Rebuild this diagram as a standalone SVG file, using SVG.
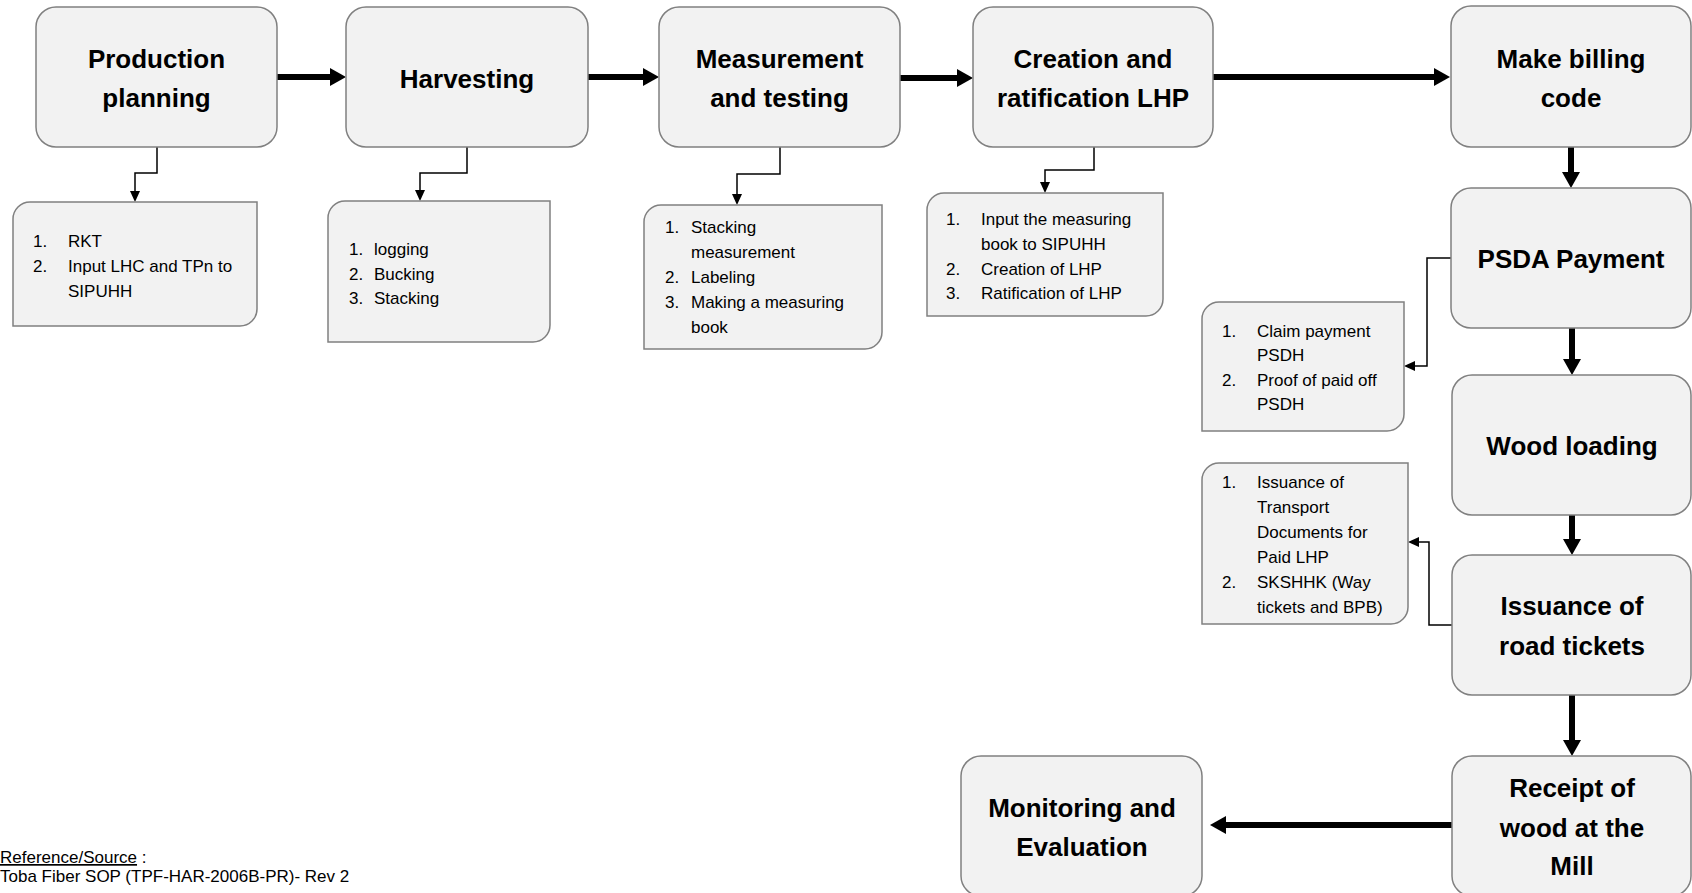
<svg xmlns="http://www.w3.org/2000/svg" width="1692" height="893" viewBox="0 0 1692 893">
<style>
.box{fill:#f2f2f2;stroke:#808080;stroke-width:1.5}
.sub{fill:#f2f2f2;stroke:#808080;stroke-width:1.5}
.t{font-family:"Liberation Sans",Arial,sans-serif;font-weight:bold;font-size:26px;fill:#000;text-anchor:middle}
.s{font-family:"Liberation Sans",Arial,sans-serif;font-size:17px;fill:#000}
.thick{fill:none;stroke:#000;stroke-width:6}
.thin{fill:none;stroke:#000;stroke-width:1.5}
.ref{font-family:"Liberation Sans",Arial,sans-serif;font-size:17px;fill:#000}
</style>
<defs>
<marker id="ah" markerUnits="userSpaceOnUse" markerWidth="16" markerHeight="18" refX="0" refY="9" orient="auto" overflow="visible"><path d="M0,0 L16,9 L0,18 z" fill="#000"/></marker>
<marker id="as" markerUnits="userSpaceOnUse" markerWidth="11" markerHeight="10" refX="0" refY="5" orient="auto" overflow="visible"><path d="M0,0 L11,5 L0,10 z" fill="#000"/></marker>
</defs>
<rect width="1692" height="893" fill="#fff"/>

<g id="connectors">
<line class="thick" x1="277" y1="77" x2="330" y2="77" marker-end="url(#ah)"/>
<line class="thick" x1="588" y1="77" x2="643" y2="77" marker-end="url(#ah)"/>
<line class="thick" x1="900" y1="78" x2="957" y2="78" marker-end="url(#ah)"/>
<line class="thick" x1="1213" y1="77" x2="1434" y2="77" marker-end="url(#ah)"/>
<line class="thick" x1="1571" y1="147" x2="1571" y2="172" marker-end="url(#ah)"/>
<line class="thick" x1="1572" y1="328" x2="1572" y2="359" marker-end="url(#ah)"/>
<line class="thick" x1="1572" y1="515" x2="1572" y2="539" marker-end="url(#ah)"/>
<line class="thick" x1="1572" y1="695" x2="1572" y2="740" marker-end="url(#ah)"/>
<line class="thick" x1="1452" y1="825" x2="1226" y2="825" marker-end="url(#ah)"/>
<path class="thin" d="M157,147 V173 H135 V191" marker-end="url(#as)"/>
<path class="thin" d="M467,147 V173 H420 V190" marker-end="url(#as)"/>
<path class="thin" d="M780,147 V174 H737 V194" marker-end="url(#as)"/>
<path class="thin" d="M1094,147 V170 H1045 V182" marker-end="url(#as)"/>
<path class="thin" d="M1452,258 H1427 V366 H1415" marker-end="url(#as)"/>
<path class="thin" d="M1452,625 H1429 V542 H1419" marker-end="url(#as)"/>
</g>

<g id="production-planning">
<rect class="box" x="36" y="7" width="241" height="140" rx="20"/>
<text class="t" x="156.5" y="68">Production</text>
<text class="t" x="156.5" y="107">planning</text>
</g>
<g id="harvesting">
<rect class="box" x="346" y="7" width="242" height="140" rx="20"/>
<text class="t" x="467" y="88">Harvesting</text>
</g>
<g id="measurement">
<rect class="box" x="659" y="7" width="241" height="140" rx="20"/>
<text class="t" x="779.5" y="68">Measurement</text>
<text class="t" x="779.5" y="107">and testing</text>
</g>
<g id="creation">
<rect class="box" x="973" y="7" width="240" height="140" rx="20"/>
<text class="t" x="1093" y="68">Creation and</text>
<text class="t" x="1093" y="107">ratification LHP</text>
</g>
<g id="billing">
<rect class="box" x="1451" y="6" width="240" height="141" rx="20"/>
<text class="t" x="1571" y="68">Make billing</text>
<text class="t" x="1571" y="107">code</text>
</g>
<g id="psda">
<rect class="box" x="1451" y="188" width="240" height="140" rx="20"/>
<text class="t" x="1571" y="268">PSDA Payment</text>
</g>
<g id="wood-loading">
<rect class="box" x="1452" y="375" width="239" height="140" rx="20"/>
<text class="t" x="1572" y="455">Wood loading</text>
</g>
<g id="issuance">
<rect class="box" x="1452" y="555" width="239" height="140" rx="20"/>
<text class="t" x="1572" y="615">Issuance of</text>
<text class="t" x="1572" y="655">road tickets</text>
</g>
<g id="receipt">
<rect class="box" x="1452" y="756" width="239" height="140" rx="20"/>
<text class="t" x="1572" y="797">Receipt of</text>
<text class="t" x="1572" y="837">wood at the</text>
<text class="t" x="1572" y="875">Mill</text>
</g>
<g id="monitoring">
<rect class="box" x="961" y="756" width="241" height="140" rx="20"/>
<text class="t" x="1082" y="817">Monitoring and</text>
<text class="t" x="1082" y="856">Evaluation</text>
</g>

<g id="sub-planning">
<path class="sub" d="M30,202 H257 V309 A17,17 0 0 1 240,326 H13 V219 A17,17 0 0 1 30,202 Z"/>
<text class="s" x="33" y="247">1.</text><text class="s" x="68" y="247">RKT</text>
<text class="s" x="33" y="272">2.</text><text class="s" x="68" y="272">Input LHC and TPn to</text>
<text class="s" x="68" y="297">SIPUHH</text>
</g>
<g id="sub-harvesting">
<path class="sub" d="M345,201 H550 V325 A17,17 0 0 1 533,342 H328 V218 A17,17 0 0 1 345,201 Z"/>
<text class="s" x="349" y="255">1.</text><text class="s" x="374" y="255">logging</text>
<text class="s" x="349" y="280">2.</text><text class="s" x="374" y="280">Bucking</text>
<text class="s" x="349" y="304">3.</text><text class="s" x="374" y="304">Stacking</text>
</g>
<g id="sub-measurement">
<path class="sub" d="M661,205 H882 V332 A17,17 0 0 1 865,349 H644 V222 A17,17 0 0 1 661,205 Z"/>
<text class="s" x="665" y="233">1.</text><text class="s" x="691" y="233">Stacking</text>
<text class="s" x="691" y="258">measurement</text>
<text class="s" x="665" y="283">2.</text><text class="s" x="691" y="283">Labeling</text>
<text class="s" x="665" y="308">3.</text><text class="s" x="691" y="308">Making a measuring</text>
<text class="s" x="691" y="333">book</text>
</g>
<g id="sub-creation">
<path class="sub" d="M944,193 H1163 V299 A17,17 0 0 1 1146,316 H927 V210 A17,17 0 0 1 944,193 Z"/>
<text class="s" x="946" y="225">1.</text><text class="s" x="981" y="225">Input the measuring</text>
<text class="s" x="981" y="250">book to SIPUHH</text>
<text class="s" x="946" y="275">2.</text><text class="s" x="981" y="275">Creation of LHP</text>
<text class="s" x="946" y="299">3.</text><text class="s" x="981" y="299">Ratification of LHP</text>
</g>
<g id="sub-psda">
<path class="sub" d="M1219,302 H1404 V414 A17,17 0 0 1 1387,431 H1202 V319 A17,17 0 0 1 1219,302 Z"/>
<text class="s" x="1222" y="337">1.</text><text class="s" x="1257" y="337">Claim payment</text>
<text class="s" x="1257" y="361">PSDH</text>
<text class="s" x="1222" y="386">2.</text><text class="s" x="1257" y="386">Proof of paid off</text>
<text class="s" x="1257" y="410">PSDH</text>
</g>
<g id="sub-issuance">
<path class="sub" d="M1219,463 H1408 V607 A17,17 0 0 1 1391,624 H1202 V480 A17,17 0 0 1 1219,463 Z"/>
<text class="s" x="1222" y="488">1.</text><text class="s" x="1257" y="488">Issuance of</text>
<text class="s" x="1257" y="513">Transport</text>
<text class="s" x="1257" y="538">Documents for</text>
<text class="s" x="1257" y="563">Paid LHP</text>
<text class="s" x="1222" y="588">2.</text><text class="s" x="1257" y="588">SKSHHK (Way</text>
<text class="s" x="1257" y="613">tickets and BPB)</text>
</g>

<g id="source">
<text class="ref" x="0" y="863"><tspan text-decoration="underline">Reference/Source</tspan> :</text>
<text class="ref" x="0" y="882">Toba Fiber SOP (TPF-HAR-2006B-PR)- Rev 2</text>
</g>
</svg>
